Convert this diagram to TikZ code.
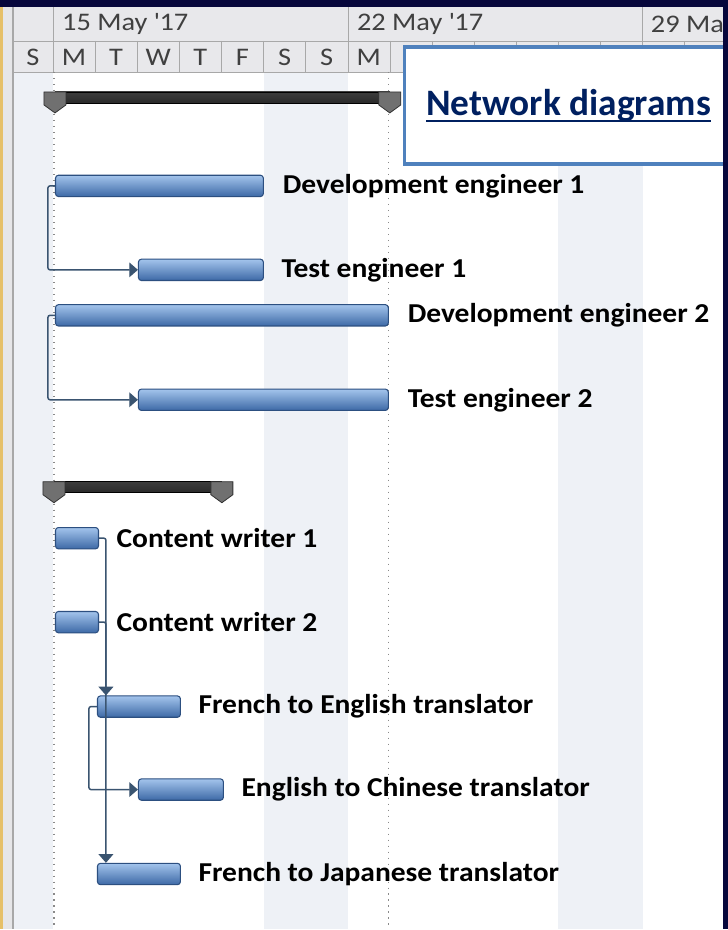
\documentclass[tikz,border=0pt]{standalone}
\usepackage{fontspec}
\setmainfont{Carlito}
\newfontfamily\widefont[FakeStretch=1.08]{Carlito}
\newfontfamily\hdrfont[FakeStretch=1.12]{Carlito}
\usetikzlibrary{positioning,arrows.meta}

\definecolor{framenavy}{HTML}{07073C}
\definecolor{framegold}{HTML}{E6C068}
\definecolor{sidegray}{HTML}{E6E6E8}
\definecolor{hdrfill}{HTML}{E8E8EB}
\definecolor{hdrtext}{HTML}{404040}
\definecolor{gridcol}{HTML}{A8A8A8}
\definecolor{weekend}{HTML}{EEF1F6}
\definecolor{dotcol}{HTML}{8A8A8A}
\definecolor{tasktop}{HTML}{A3C4EC}
\definecolor{taskmid}{HTML}{6E9BD4}
\definecolor{taskbot}{HTML}{3D69A6}
\definecolor{taskline}{HTML}{2C4F80}
\definecolor{linkcol}{HTML}{3A5470}
\definecolor{sumtop}{HTML}{3C3C3C}
\definecolor{summid}{HTML}{A0A0A0}
\definecolor{sumbot}{HTML}{2A2A2A}
\definecolor{capcol}{HTML}{707070}
\definecolor{boxline}{HTML}{4F81BD}
\definecolor{titlecol}{HTML}{002060}

% summary bar with its two end caps: {left x}{right x}{top y}
\newcommand{\summarybar}[3]{%
  \draw[black, line width=0.6pt, top color=sumtop, middle color=summid, bottom color=sumbot] (#1,#3) rectangle (#2,#3+11);
  \foreach \cx in {#1,#2}{
    \draw[black!80, line width=0.6pt, fill=capcol] (\cx-11,#3) -- (\cx+11,#3) -- (\cx+11,#3+13) -- (\cx,#3+21) -- (\cx-11,#3+13) -- cycle;
  }
}

\begin{document}
\begin{tikzpicture}[x=0.75pt,y=-0.75pt,
    task/.style={draw=taskline, line width=0.8pt, rounded corners=2.2pt,
      top color=tasktop, middle color=taskmid, bottom color=taskbot,
      minimum height=16pt, inner sep=0pt, anchor=west},
    lbl/.style={font=\widefont\bfseries\fontsize{20.5}{22}\selectfont, inner sep=0pt},
    hdr/.style={font=\hdrfont\fontsize{19}{20}\selectfont, text=hdrtext, inner sep=0pt},
    link/.style={linkcol, line width=1.1pt, rounded corners=1.5pt,
      -{Triangle[length=6.5pt,width=11pt]}}]

    % background and left strip
    \fill[white] (0,0) rectangle (728,930);
    \fill[framegold] (0,0) rectangle (3,930);
    \fill[sidegray] (3,0) rectangle (12,930);
    \fill[gridcol] (12,0) rectangle (14,930);
    \fill[weekend] (14,72) rectangle (53,930);
    \foreach \wk in {0,1}{
        \fill[weekend] (263.7+295*\wk,72) rectangle (348+295*\wk,930);
     }

    % timescale
    \fill[hdrfill] (14,7) rectangle (728,72);
    \draw[gridcol] (14,41) -- (728,41) (14,72) -- (728,72);
    \foreach \wk in {0,1,2}{
        \draw[gridcol] (53+295*\wk,7) -- ++(0,34);
     }
    \foreach \dd in {0,...,16}{
        \draw[gridcol] (53+42.14*\dd,41) -- ++(0,31);
     }
    \node[hdr, anchor=west] (wk1) at (62,24) {15 May \textquotesingle17};
    \node[hdr, anchor=west] (wk2) at (357,24) {22 May \textquotesingle17};
    \node[hdr, anchor=west] (wk3) at (651,24) {29 Ma};
    \node[hdr] (day0) at (33,57) {S};
    \foreach \d [count=\i] in {M,T,W,T,F,S,S,M}{
        \node[hdr] (day\i) at (31.93+42.14*\i,57) {\d};
     }

    % start and finish lines
    \draw[dotcol, line width=0.8pt, dash pattern=on 1pt off 3.5pt] (54,72) -- (54,930) (389,72) -- (389,930);

    % engineers
    \summarybar{55}{390}{92}
    \node[task, minimum width=156pt] (dev1) at (55,186) {};
    \node[lbl, right=14pt of dev1] (dev1lbl) {Development engineer 1};
    \node[task, minimum width=93.75pt] (test1) at (138,270) {};
    \node[lbl, right=13pt of test1] (test1lbl) {Test engineer 1};
    \node[task, minimum width=249.75pt] (dev2) at (55,315.5) {};
    \node[lbl, right=14pt of dev2] (dev2lbl) {Development engineer 2};
    \node[task, minimum width=187.5pt] (test2) at (138,400) {};
    \node[lbl, right=14pt of test2] (test2lbl) {Test engineer 2};
    \draw[link] (dev1.west) -- ++(-7,0) |- (test1.west);
    \draw[link] (dev2.west) -- ++(-7,0) |- (test2.west);

    % writers and translators
    \summarybar{54}{222}{482}
    \node[task, minimum width=32.25pt] (cw1) at (55,538.5) {};
    \node[lbl, right=13pt of cw1] (cw1lbl) {Content writer 1};
    \node[task, minimum width=32.25pt] (cw2) at (55,622.5) {};
    \node[lbl, right=13pt of cw2] (cw2lbl) {Content writer 2};
    \node[task, minimum width=62.25pt] (fte) at (97,707) {};
    \node[lbl, right=13pt of fte] (ftelbl) {French to English translator};
    \node[task, minimum width=63.75pt] (etc) at (138,790) {};
    \node[lbl, right=13pt of etc] (etclbl) {English to Chinese translator};
    \node[task, minimum width=62.25pt] (ftj) at (97,874.5) {};
    \node[lbl, right=13pt of ftj] (ftjlbl) {French to Japanese translator};
    \draw[link] (cw1.east) -| ([xshift=6.75pt]fte.north west);
    \draw[link] (cw2.east) -| ([xshift=6.75pt]ftj.north west);
    \draw[link] (fte.west) -- ++(-8,0) |- (etc.west);

    % title box
    \draw[boxline, line width=2.5pt, fill=white] (405,47) rectangle (726,164);
    \node[font=\bfseries\fontsize{28}{30}\selectfont, text=titlecol, inner sep=0pt] (title) at (569,106) {Network diagrams};
    \draw[titlecol, line width=1.8pt] ([yshift=-4pt]title.base west) -- ([yshift=-4pt]title.base east);

    % slide frame
    \fill[framenavy] (0,0) rectangle (728,7);
    \fill[framenavy] (723,0) rectangle (728,930);
\end{tikzpicture}
\end{document}
